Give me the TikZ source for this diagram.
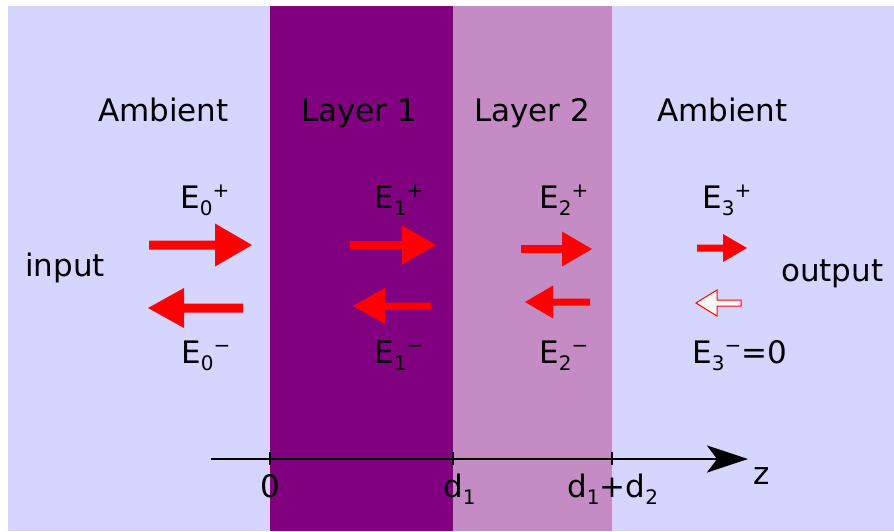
\documentclass[tikz,border=0pt]{standalone}
\usepackage{fontspec}
\setmainfont{DejaVu Sans}
\usepackage{xcolor}
\usetikzlibrary{arrows.meta}

\definecolor{ambient}{RGB}{213,213,255}
\definecolor{layerone}{RGB}{128,0,128}
\definecolor{layertwo}{RGB}{197,139,196}

% small indices next to the field names
\newcommand{\lo}[1]{\raisebox{-7pt}{\fontsize{20}{20}\selectfont #1}}
\newcommand{\hi}[1]{\raisebox{11pt}{\fontsize{20}{20}\selectfont #1}}
% fat field arrow: tail x, head base x, tip x, y, head half width, shaft half width
\newcommand{\fieldarrow}[7]{%
  \path[#1] (#2,#5-#7) -- (#3,#5-#7) -- (#3,#5-#6) -- (#4,#5)
    -- (#3,#5+#6) -- (#3,#5+#7) -- (#2,#5+#7) -- cycle;}

\begin{document}
\begin{tikzpicture}[
    x=1pt, y=-1pt,
    font=\fontsize{31}{37}\selectfont,
    lbl/.style={inner sep=0pt, anchor=base west},
    wave/.style={fill=red},
    nowave/.style={draw=red, fill=white, line width=1pt},
    tick/.style={line width=1.6pt}]

    \useasboundingbox (0,0) rectangle (894,531);

    %% ---- media ----
    \fill[ambient]  (8,6)   rectangle (894,531);
    \fill[layerone] (270,6) rectangle (453,531);
    \fill[layertwo] (453,6) rectangle (612,531);

    \node[lbl] (amb0) at (98,121)  {Ambient};
    \node[lbl] (lay1) at (301,121) {Layer 1};
    \node[lbl] (lay2) at (474,121) {Layer 2};
    \node[lbl] (amb3) at (657,121) {Ambient};

    \node[lbl] (in)  at (25,276)  {input};
    \node[lbl] (out) at (781,281) {output};

    %% ---- forward / backward fields ----
    \node[lbl] (e0p) at (180,208) {E\lo{0}\hi{+}};
    \node[lbl] (e1p) at (374,208) {E\lo{1}\hi{+}};
    \node[lbl] (e2p) at (539,208) {E\lo{2}\hi{+}};
    \node[lbl] (e3p) at (702,208) {E\lo{3}\hi{+}};
    \node[lbl] (e0m) at (181,363) {E\lo{0}\hi{−}};
    \node[lbl] (e1m) at (374,363) {E\lo{1}\hi{−}};
    \node[lbl] (e2m) at (539,363) {E\lo{2}\hi{−}};
    \node[lbl] (e3m) at (692,363) {E\lo{3}\hi{−}=0};

    \fieldarrow{wave}{149}{215}{252}{245}{21.5}{4.5}
    \fieldarrow{wave}{350}{402}{436}{245}{19.5}{4}
    \fieldarrow{wave}{521}{562}{592}{249}{17.5}{4}
    \fieldarrow{wave}{697}{723}{747}{248}{14}{3.5}
    \fieldarrow{wave}{243}{184}{148}{308}{20}{4.5}
    \fieldarrow{wave}{431}{385}{353}{306}{18}{3.5}
    \fieldarrow{wave}{590}{553}{525}{302}{16.5}{3.5}
    \fieldarrow{nowave}{741}{717}{696}{303}{13}{3}

    %% ---- z axis ----
    \coordinate (zs) at (211,459);
    \coordinate (ze) at (748,459);
    \draw[line width=2.6pt, -{Stealth[length=41pt, width=27pt, inset=10pt]}] (zs) -- (ze);
    \foreach \zx in {270,453,612}
      \draw[tick] (\zx,452) -- (\zx,465);

    \node[inner sep=0pt, anchor=base] (z0) at (270,497) {0};
    \node[lbl] (zd1)  at (443,497) {d\lo{1}};
    \node[lbl] (zd12) at (567,497) {d\lo{1}+d\lo{2}};
    \node[lbl] (zlab) at (753,484) {z};
\end{tikzpicture}
\end{document}
